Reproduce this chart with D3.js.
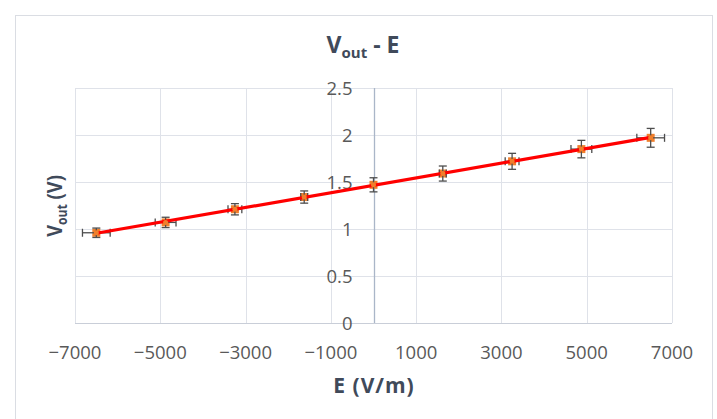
<!DOCTYPE html>
<html>
<head>
<meta charset="utf-8">
<script src="https://cdn.jsdelivr.net/npm/d3@7"></script>
<style>
  body { margin: 0; background: #fff; }
  svg text { font-family: "Open Sans", "Liberation Sans", sans-serif; }
</style>
</head>
<body>
<div id="chart"></div>
<script>
// measured field and output voltage, with their uncertainties
const fieldValues = [-6500, -4875, -3250, -1625, 0, 1625, 3250, 4875, 6500];
const voltValues = [0.96, 1.07, 1.21, 1.34, 1.47, 1.59, 1.72, 1.85, 1.97];
const fieldErrors = [325, 244, 162, 81, 0, 81, 162, 244, 325];
const voltErrors = [0.05, 0.055, 0.06, 0.065, 0.075, 0.08, 0.085, 0.093, 0.1];
const xTicks = [-7000, -5000, -3000, -1000, 1000, 3000, 5000, 7000];
const yTicks = [0, 0.5, 1, 1.5, 2, 2.5];

const width = 717, height = 419;
const plotLeft = 75, plotRight = 672, plotTop = 88, plotBottom = 323;

const svg = d3.select("#chart").append("svg")
    .attr("width", width)
    .attr("height", height);

// chart frame
svg.append("rect")
    .attr("x", 15.5).attr("y", 15.5)
    .attr("width", 697).attr("height", 420)
    .attr("fill", "#fff")
    .attr("stroke", "#dadde3");

const x = d3.scaleLinear().domain([-7000, 7000]).range([plotLeft, plotRight]);
const y = d3.scaleLinear().domain([0, 2.5]).range([plotBottom, plotTop]);

//gridlines
svg.append("g").selectAll("line").data(yTicks).enter().append("line")
    .attr("x1", plotLeft).attr("x2", plotRight)
    .attr("y1", d => Math.round(y(d)) + 0.5).attr("y2", d => Math.round(y(d)) + 0.5)
    .attr("stroke", d => d === 0 ? "#c9ced8" : "#dfe2e9")
    .attr("stroke-width", 1);

svg.append("g").selectAll("line").data(xTicks)
    .enter().append("line")
    .attr("x1", d => Math.round(x(d)) + 0.5).attr("x2", d => Math.round(x(d)) + 0.5)
    .attr("y1", plotTop).attr("y2", plotBottom)
    .attr("stroke", "#dfe2e9")
    .attr("stroke-width", 1);

// vertical axis crosses at E = 0
svg.append("line")
    .attr("x1", Math.round(x(0)) + 0.5).attr("x2", Math.round(x(0)) + 0.5)
    .attr("y1", plotTop).attr("y2", plotBottom)
    .attr("stroke", "#aab6c8")
    .attr("stroke-width", 1.3);

// y tick labels sit left of the crossing axis
svg.append("g").selectAll("text").data(yTicks).enter().append("text")
    .attr("x", x(0) - 21)
    .attr("y", d => y(d))
    .attr("dy", "0.36em")
    .attr("text-anchor", "end")
    .attr("font-size", 18.5)
    .attr("fill", "#595959")
    .text(d => d);

svg.append("g").selectAll("text").data(xTicks).enter().append("text")
    .attr("x", d => x(d))
    .attr("y", 359)
    .attr("text-anchor", "middle")
    .attr("font-size", 18.5)
    .attr("fill", "#595959")
    .text(d => d < 0 ? "\u2212" + Math.abs(d) : d);

// titles
const title = svg.append("text")
    .attr("x", 363).attr("y", 53)
    .attr("text-anchor", "middle")
    .attr("font-size", 23)
    .attr("font-weight", "bold")
    .attr("fill", "#404a5a");
title.append("tspan").text("V");
title.append("tspan").attr("font-size", 15).attr("dy", 5).text("out");
title.append("tspan").attr("dy", -5).text(" - E");

svg.append("text")
    .attr("x", 374).attr("y", 393)
    .attr("text-anchor", "middle")
    .attr("font-size", 21)
    .attr("font-weight", "bold")
    .attr("letter-spacing", 1)
    .attr("fill", "#404a5a")
    .text("E (V/m)");

const yLabel = svg.append("text")
    .attr("transform", "translate(62,206) rotate(-90) scale(0.87,1)")
    .attr("text-anchor", "middle")
    .attr("font-size", 21)
    .attr("font-weight", "bold")
    .attr("fill", "#404a5a");
yLabel.append("tspan").text("V");
yLabel.append("tspan").attr("font-size", 14).attr("dy", 5).text("out");
yLabel.append("tspan").attr("dy", -5).text(" (V)");

const points = fieldValues.map((f, i) => ({
    e: f, v: voltValues[i], de: fieldErrors[i], dv: voltErrors[i]
}));

// linear trendline (least squares)
const mx = d3.mean(fieldValues), my = d3.mean(voltValues);
const slope = d3.sum(points, p => (p.e - mx) * (p.v - my)) / d3.sum(points, p => (p.e - mx) * (p.e - mx));
const icpt = my - slope * mx;
const ends = [d3.min(fieldValues), d3.max(fieldValues)];

// markers
svg.append("g").selectAll("rect").data(points).enter().append("rect")
    .attr("x", d => x(d.e) - 4).attr("y", d => y(d.v) - 4)
    .attr("width", 8).attr("height", 8)
    .attr("fill", "#f07f2c");

// error bars
const errColor = "#4d4d4d";
const bars = svg.append("g").attr("stroke", errColor).attr("stroke-width", 1.3).attr("fill", "none");
points.forEach(p => {
    const cx = x(p.e), cy = y(p.v);
    bars.append("line").attr("x1", cx).attr("x2", cx).attr("y1", y(p.v - p.dv)).attr("y2", y(p.v + p.dv));
    bars.append("line").attr("x1", cx - 4).attr("x2", cx + 4).attr("y1", y(p.v - p.dv)).attr("y2", y(p.v - p.dv));
    bars.append("line").attr("x1", cx - 4).attr("x2", cx + 4).attr("y1", y(p.v + p.dv)).attr("y2", y(p.v + p.dv));
    if (p.de > 0) {
        bars.append("line").attr("x1", x(p.e - p.de)).attr("x2", x(p.e + p.de)).attr("y1", cy).attr("y2", cy);
        bars.append("line").attr("x1", x(p.e - p.de)).attr("x2", x(p.e - p.de)).attr("y1", cy - 4).attr("y2", cy + 4);
        bars.append("line").attr("x1", x(p.e + p.de)).attr("x2", x(p.e + p.de)).attr("y1", cy - 4).attr("y2", cy + 4);
    }
});

svg.append("line")
    .attr("x1", x(ends[0])).attr("y1", y(icpt + slope * ends[0]))
    .attr("x2", x(ends[1])).attr("y2", y(icpt + slope * ends[1]))
    .attr("stroke", "#ff0000")
    .attr("stroke-width", 3.2);

svg.selectAll("circle.dot").data(points).enter().append("circle")
    .attr("class", "dot")
    .attr("cx", d => x(d.e)).attr("cy", d => y(d.v))
    .attr("r", 2.5)
    .attr("fill", "#f07f2c");
</script>
</body>
</html>
